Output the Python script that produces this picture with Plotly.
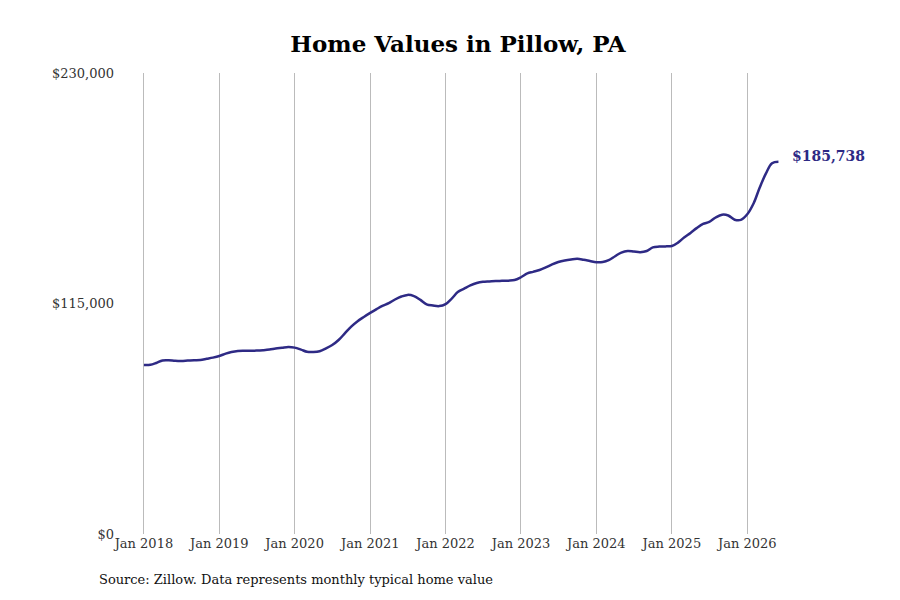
import pandas as pd
import plotly.graph_objects as go

dates = pd.date_range("2018-01-01", "2026-06-01", freq="MS")
values = [
    84300, 84400, 85300, 86600, 86700, 86400, 86300, 86500, 86700, 86800, 87400, 88000,
    88800, 90000, 90800, 91300, 91400, 91400, 91500, 91700, 92000, 92500, 92900, 93300,
    93000, 92000, 90900, 90800, 91200, 92600, 94300, 96800, 100200, 103500, 106200, 108300,
    110300, 112200, 113800, 115200, 117000, 118500, 119300, 118700, 116800, 114600, 114000, 113700,
    114700, 117600, 120700, 122400, 124000, 125200, 125800, 126000, 126200, 126300, 126400, 126700,
    128100, 130000, 130800, 131700, 133000, 134500, 135700, 136500, 137000, 137300, 136800, 136200,
    135600, 135700, 136600, 138600, 140400, 141200, 140900, 140600, 141200, 143000, 143400, 143500,
    143700, 145500, 147900, 150200, 152600, 154700, 155700, 157900, 159300, 158900, 156800, 156700,
    159500, 165000, 172500, 179800, 185000, 185738,
]
ytick_vals = [0, 115000, 230000]
ytick_text = ["$0", "$115,000", "$230,000"]
xtick_vals = pd.date_range("2018-01-01", "2026-01-01", freq="YS")
xtick_text = [f"Jan {d.year}" for d in xtick_vals]

navy = "#2e2a85"
fig = go.Figure(go.Scatter(x=dates, y=values, mode="lines",
                           line=dict(color=navy, width=2.5, shape="spline"),
                           hoverinfo="skip"))

fig.add_annotation(x=dates[-1], y=values[-1], text=f"<b>${values[-1]:,}</b>",
                   xanchor="left", xshift=12, yshift=6, showarrow=False,
                   font=dict(color=navy, size=14))
fig.add_annotation(x=0, y=0, xref="paper", yref="paper", text="Source: Zillow. Data represents monthly typical home value",
                   xanchor="left", yanchor="top", xshift=-18, yshift=-36, showarrow=False,
                   font=dict(size=13, color="#111"))

fig.update_layout(
    width=900, height=600,
    margin=dict(l=107, r=48, t=65, b=74),
    plot_bgcolor="white", paper_bgcolor="white",
    font=dict(family="DejaVu Serif, serif", size=13, color="#333"),
    title=dict(text="<b>Home Values in Pillow, PA</b>", x=0.5, y=0.94, xanchor="center", yanchor="middle",
               font=dict(size=23, color="black")),
    showlegend=False,
    xaxis=dict(range=["2017-08-14", "2027-07-01"], tickvals=xtick_vals, ticktext=xtick_text,
               showgrid=True, gridcolor="#bbbbbb", gridwidth=1, zeroline=False,
               showline=False, ticks=""),
    yaxis=dict(range=[0, 230000], tickvals=ytick_vals, ticktext=ytick_text,
               showgrid=False, zeroline=False, showline=False, ticks=""),
)

fig.write_html("out.html")
